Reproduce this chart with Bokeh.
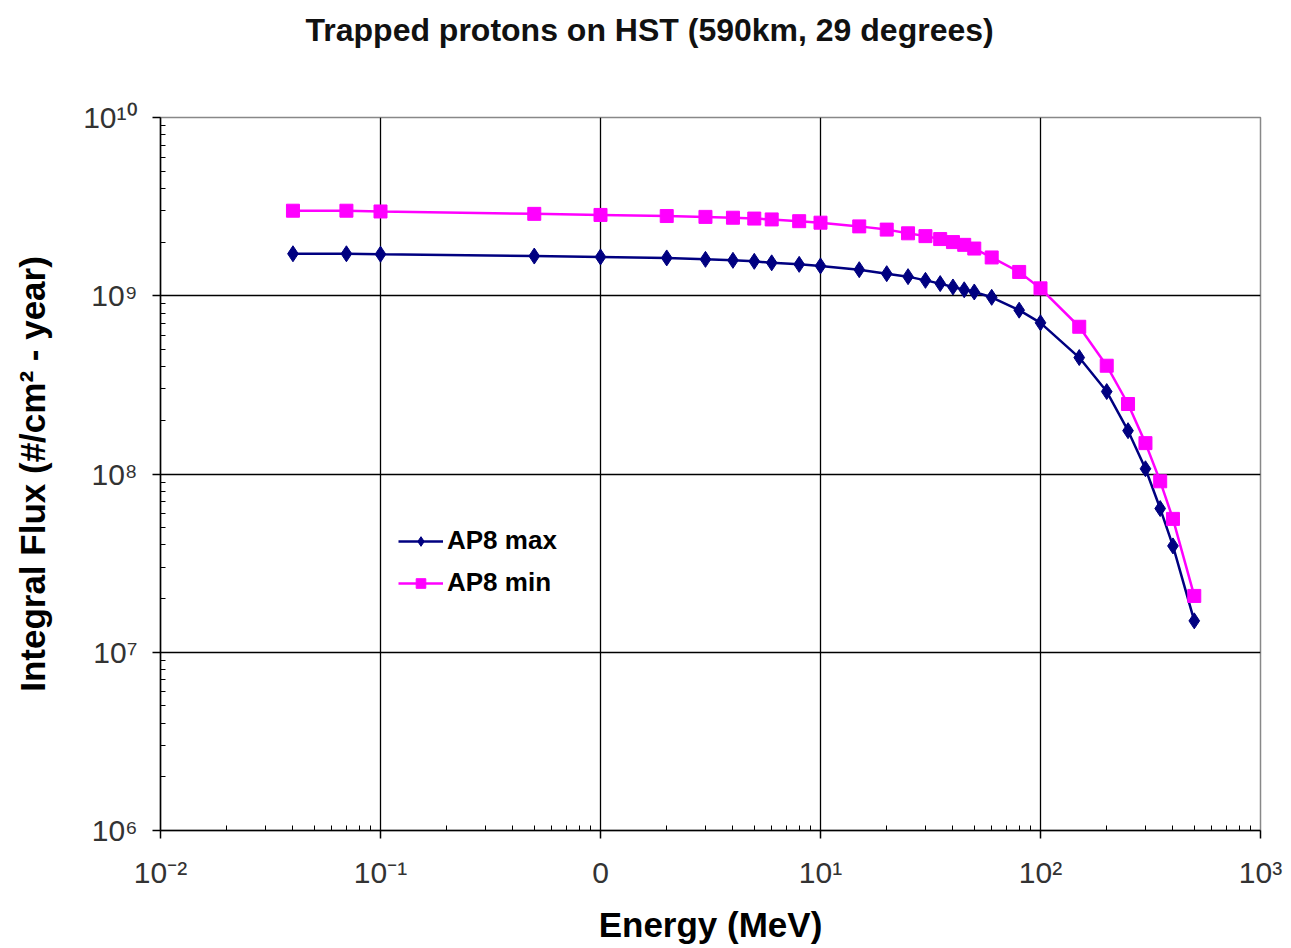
from bokeh.plotting import figure
from bokeh.models import Range1d, FixedTicker, Legend, LegendItem, Title
from bokeh.embed import file_html
from bokeh.resources import INLINE

# ---- data ----
energy_mev = [0.04, 0.07, 0.1, 0.5, 1, 2, 3, 4, 5, 6, 8, 10, 15, 20, 25, 30, 35, 40,
              45, 50, 60, 80, 100, 150, 200, 250, 300, 350, 400, 500]
ap8_max = [1.72e9, 1.72e9, 1.71e9, 1.67e9, 1.65e9, 1.63e9, 1.60e9, 1.58e9, 1.56e9,
           1.53e9, 1.50e9, 1.47e9, 1.40e9, 1.33e9, 1.28e9, 1.22e9, 1.17e9, 1.12e9,
           1.08e9, 1.05e9, 9.8e8, 8.3e8, 7.05e8, 4.5e8, 2.9e8, 1.75e8, 1.07e8,
           6.4e7, 3.95e7, 1.5e7]
ap8_min = [3.0e9, 3.0e9, 2.97e9, 2.88e9, 2.84e9, 2.80e9, 2.77e9, 2.74e9, 2.71e9,
           2.68e9, 2.62e9, 2.57e9, 2.45e9, 2.35e9, 2.24e9, 2.16e9, 2.08e9, 2.0e9,
           1.93e9, 1.84e9, 1.64e9, 1.36e9, 1.1e9, 6.7e8, 4.05e8, 2.47e8, 1.49e8,
           9.1e7, 5.6e7, 2.07e7]

x_ticks = [0.01, 0.1, 1, 10, 100, 1000]
x_tick_labels = ["10\u207b\u00b2", "10\u207b\u00b9", "0", "10\u00b9", "10\u00b2", "10\u00b3"]
y_ticks = [1e6, 1e7, 1e8, 1e9, 1e10]
y_tick_labels = ["10\u2076", "10\u2077", "10\u2078", "10\u2079", "10\u00b9\u2070"]

title_text = "Trapped protons on HST (590km, 29 degrees)"
x_label = "Energy (MeV)"
y_label = "Integral Flux (#/cm\u00b2 - year)"
series_names = ["AP8 max", "AP8 min"]

FONT = "Liberation Sans"

p = figure(width=1291, height=948, x_axis_type="log", y_axis_type="log",
           x_range=Range1d(x_ticks[0], x_ticks[-1]),
           y_range=Range1d(y_ticks[0], y_ticks[-1]),
           title=None,
           output_backend="svg", toolbar_location=None,
           min_border_left=160, min_border_right=31,
           min_border_top=117, min_border_bottom=118)

# spacer between frame and title, then the title itself (farther from the frame)
p.add_layout(Title(text="\u00a0", text_font=FONT, text_font_size="48px"), "above")
p.add_layout(Title(text=title_text, align="left", offset=145,
                   text_font=FONT, text_font_size="32px", text_font_style="bold",
                   text_color="#111111"), "above")

def minor_of(ticks):
    out = []
    for a, b in zip(ticks[:-1], ticks[1:]):
        out += [a * k for k in range(2, 10)]
    return out

p.xaxis.ticker = FixedTicker(ticks=x_ticks, minor_ticks=minor_of(x_ticks))
p.yaxis.ticker = FixedTicker(ticks=y_ticks, minor_ticks=minor_of(y_ticks))
p.xaxis.major_label_overrides = {t: l for t, l in zip(x_ticks, x_tick_labels)}
p.yaxis.major_label_overrides = {t: l for t, l in zip(y_ticks, y_tick_labels)}

for ax in (p.xaxis[0], p.yaxis[0]):
    ax.axis_line_color = "black"
    ax.axis_line_width = 1.5
    ax.major_tick_line_color = "black"
    ax.major_tick_line_width = 1.5
    ax.major_tick_in = 0
    ax.major_tick_out = 8
    ax.minor_tick_line_color = "black"
    ax.minor_tick_line_width = 1
    ax.minor_tick_in = 5
    ax.minor_tick_out = 0
    ax.major_label_text_font = FONT
    ax.major_label_text_font_size = "30px"
    ax.major_label_text_color = "#333333"
    ax.axis_label_text_font = FONT
    ax.axis_label_text_font_style = "bold"
    ax.axis_label_text_font_size = "35px"
    ax.axis_label_text_color = "black"

p.xaxis.axis_label = x_label
p.yaxis.axis_label = y_label
p.xaxis.major_label_standoff = 17
p.xaxis.axis_label_standoff = 13
p.yaxis.major_label_standoff = 15
p.yaxis.axis_label_standoff = 28
p.yaxis.major_label_orientation = "horizontal"

p.grid.grid_line_color = "black"
p.grid.grid_line_width = 1.3
p.grid.minor_grid_line_color = None
p.outline_line_color = "#888888"
p.outline_line_width = 1.5
p.background_fill_color = "white"
p.border_fill_color = "white"

l1 = p.line(energy_mev, ap8_max, line_color="#000080", line_width=2.5)
m1 = p.scatter(energy_mev, ap8_max, marker="diamond", size=16,
               fill_color="#000080", line_color="#000080")
l2 = p.line(energy_mev, ap8_min, line_color="#FF00FF", line_width=2.5)
m2 = p.scatter(energy_mev, ap8_min, marker="square", size=13,
               fill_color="#FF00FF", line_color="#FF00FF")

legend = Legend(items=[LegendItem(label=series_names[0], renderers=[l1, m1]),
                       LegendItem(label=series_names[1], renderers=[l2, m2])],
                location=(238, 232), orientation="vertical",
                border_line_color=None, background_fill_alpha=0,
                label_text_font=FONT, label_text_font_size="26px",
                label_text_font_style="bold", label_text_color="black",
                glyph_width=45, glyph_height=24, label_height=30,
                spacing=11, padding=0, margin=0, label_standoff=4)
p.add_layout(legend)

open("out.html", "w").write(file_html(p, INLINE))
